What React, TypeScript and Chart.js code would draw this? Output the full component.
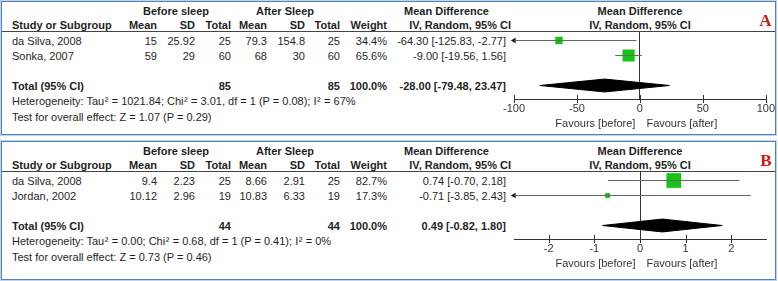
import React, { useEffect, useRef } from 'react';
import { Chart, registerables } from 'chart.js';

Chart.register(...registerables);

const FONT = "'Liberation Sans', Arial, Helvetica, sans-serif";

// ---------- data ----------
const groupLabels = ['Before sleep', 'After Sleep'];
const favoursLabels = ['Favours [before]', 'Favours [after]'];
const panelLetters = ['A', 'B'];

const studiesA = ['da Silva, 2008', 'Sonka, 2007'];
const beforeMeanA = [15, 59];
const beforeSdA = [25.92, 29];
const beforeNA = [25, 60];
const afterMeanA = [79.3, 68];
const afterSdA = [154.8, 30];
const afterNA = [25, 60];
const weightA = [34.4, 65.6];
const mdA = [-64.3, -9.0];
const ciLowA = [-125.83, -19.56];
const ciHighA = [-2.77, 1.56];
const pooledA = [-28.0, -79.48, 23.47];
const totalNA = [85, 85];
const hetA = [1021.84, 3.01, 1, 0.08, 67];
const overallA = [1.07, 0.29];
const ticksA = [-100, -50, 0, 50, 100];
const rangeA = [-100, 100];

const studiesB = ['da Silva, 2008', 'Jordan, 2002'];
const beforeMeanB = [9.4, 10.12];
const beforeSdB = [2.23, 2.96];
const beforeNB = [25, 19];
const afterMeanB = [8.66, 10.83];
const afterSdB = [2.91, 6.33];
const afterNB = [25, 19];
const weightB = [82.7, 17.3];
const mdB = [0.74, -0.71];
const ciLowB = [-0.7, -3.85];
const ciHighB = [2.18, 2.43];
const pooledB = [0.49, -0.82, 1.8];
const totalNB = [44, 44];
const hetB = [0.0, 0.68, 1, 0.41, 0];
const overallB = [0.73, 0.46];
const ticksB = [-2, -1, 0, 1, 2];
const rangeB = [-2.76, 2.76];

// ---------- styles ----------
const TEXT = '#1f1f1f';
const GREEN = '#16c416';
const TOTAL_ROW = 3;
const DIAMOND_HALF = 0.43;

type Align = 'left' | 'right' | 'center';

function T(p: { x: number; y: number; align?: Align; bold?: boolean; children: React.ReactNode }) {
  const align = p.align || 'left';
  const tx = align === 'right' ? 'translateX(-100%)' : align === 'center' ? 'translateX(-50%)' : 'none';
  return (
    <div
      style={{
        position: 'absolute',
        left: p.x,
        top: p.y - 6.5,
        lineHeight: '13px',
        height: 13,
        whiteSpace: 'nowrap',
        transform: tx,
        fontWeight: p.bold ? 'bold' : 'normal',
      }}
    >
      {p.children}
    </div>
  );
}

const Sq = () => (
  <span style={{ display: 'inline-block', width: 7.5, paddingLeft: 0.5, boxSizing: 'border-box' }}>²</span>
);

const fmtPct = (v: number) => v.toFixed(1) + '%';
const fmtCi = (m: number, l: number, h: number) => `${m.toFixed(2)} [${l.toFixed(2)}, ${h.toFixed(2)}]`;

const decorPlugin = {
  id: 'forestDecor',
  afterDraw(chart: any, _args: any, opts: any) {
    const x = chart.scales.x;
    const ctx = chart.ctx;
    const axisY = chart.chartArea.bottom;
    ctx.save();
    ctx.strokeStyle = '#333';
    ctx.lineWidth = 1;
    x.ticks.forEach((t: any) => {
      const px = Math.round(x.getPixelForValue(t.value)) + 0.5;
      ctx.beginPath();
      ctx.moveTo(px, axisY - 4);
      ctx.lineTo(px, axisY + 4);
      ctx.stroke();
    });
    const x0 = x.getPixelForValue(0);
    ctx.font = `11px ${FONT}`;
    ctx.fillStyle = '#333';
    ctx.textBaseline = 'middle';
    ctx.textAlign = 'right';
    ctx.fillText(opts.labels[0], x0 - 4.5, axisY + 24.5);
    ctx.textAlign = 'left';
    ctx.fillText(opts.labels[1], x0 + 6.5, axisY + 24.5);
    ctx.restore();
  },
};

type PanelProps = {
  top: number;
  height: number;
  letter: string;
  studies: string[];
  bMean: number[];
  bSd: number[];
  bN: number[];
  aMean: number[];
  aSd: number[];
  aN: number[];
  weight: number[];
  md: number[];
  lo: number[];
  hi: number[];
  pooled: number[];
  totalN: number[];
  het: number[];
  overall: number[];
  ticks: number[];
  range: number[];
};

function ForestCanvas(p: PanelProps) {
  const ref = useRef<HTMLCanvasElement | null>(null);
  useEffect(() => {
    if (!ref.current) return;
    const [xMin, xMax] = p.range;
    const ciSets = p.studies.map((_, i) => ({
      type: 'scatter' as const,
      data: [
        { x: p.lo[i], y: i },
        { x: p.hi[i], y: i },
      ],
      showLine: true,
      borderColor: '#666',
      borderWidth: 1,
      pointRadius: 0,
    }));
    const arrowPts = p.studies
      .map((_, i) => (p.lo[i] < xMin ? { x: xMin, y: i } : null))
      .filter(Boolean);
    const [pm, pl, ph] = p.pooled;
    const chart = new Chart(ref.current, {
      type: 'scatter',
      data: {
        datasets: [
          ...ciSets,
          {
            type: 'scatter',
            data: p.md.map((m, i) => ({ x: m, y: i })),
            pointStyle: 'rect',
            pointRadius: p.weight.map((w) => (2.3 + 0.15 * w) / Math.SQRT2),
            backgroundColor: GREEN,
            borderColor: GREEN,
            borderWidth: 0,
          },
          {
            type: 'scatter',
            data: [
              { x: pl, y: TOTAL_ROW },
              { x: pm, y: TOTAL_ROW - DIAMOND_HALF },
              { x: ph, y: TOTAL_ROW },
              { x: pm, y: TOTAL_ROW + DIAMOND_HALF },
              { x: pl, y: TOTAL_ROW },
            ],
            showLine: true,
            fill: 'shape',
            backgroundColor: '#000',
            borderColor: '#000',
            borderWidth: 1,
            pointRadius: 0,
            tension: 0,
          },
          {
            type: 'scatter',
            data: arrowPts as any,
            pointStyle: 'triangle',
            rotation: -90,
            pointRadius: 3.2,
            backgroundColor: '#111',
            borderColor: '#111',
            borderWidth: 0,
            clip: false,
          } as any,
        ],
      },
      options: {
        responsive: false,
        animation: false,
        events: [],
        layout: { padding: { left: 34, right: 12, top: 32, bottom: 19 } },
        plugins: {
          legend: { display: false },
          tooltip: { enabled: false },
          forestDecor: { labels: favoursLabels },
        } as any,
        scales: {
          x: {
            type: 'linear',
            min: xMin,
            max: xMax,
            afterBuildTicks: (scale: any) => {
              scale.ticks = p.ticks.map((v) => ({ value: v }));
            },
            afterFit: (scale: any) => {
              scale.height = 20;
            },
            ticks: {
              autoSkip: false,
              maxRotation: 0,
              padding: 3,
              color: '#333',
              font: { family: FONT, size: 11 },
              callback: (v: any) => String(v),
            },
            grid: {
              drawTicks: false,
              lineWidth: 1,
              color: (c: any) => (c.tick && c.tick.value === 0 ? '#333' : 'rgba(0,0,0,0)'),
            },
            border: { display: true, color: '#333', width: 1 },
          },
          y: {
            type: 'linear',
            display: false,
            reverse: true,
            min: -0.567,
            max: 3.9,
          },
        },
      },
      plugins: [decorPlugin as any],
    });
    return () => chart.destroy();
  }, []);
  return (
    <canvas
      ref={ref}
      width={298}
      height={138}
      style={{ position: 'absolute', left: 480, top: p.top, width: 298, height: 138 }}
    />
  );
}

const COL = { study: 12, bMean: 157, bSd: 195, bN: 231, aMean: 267, aSd: 305, aN: 340, weight: 387, ci: 506 };
const ROW_Y = [41.5, 56.5];

function Panel(p: PanelProps) {
  const o = p.top;
  const [tau2, chi2, df, pHet, i2] = p.het;
  const [z, pz] = p.overall;
  return (
    <>
      <div
        style={{
          position: 'absolute',
          left: 1,
          top: o + 1,
          width: 775,
          height: p.height,
          boxSizing: 'border-box',
          border: '1px solid #4f80c0',
          boxShadow: '0 0 0 1px #c2d4ec',
        }}
      />
      <div style={{ position: 'absolute', left: 2, top: o + 31, width: 773, height: 1, background: '#444' }} />
      <T x={176} y={o + 11} align="center" bold>{groupLabels[0]}</T>
      <T x={285} y={o + 11} align="center" bold>{groupLabels[1]}</T>
      <T x={446.5} y={o + 11} align="center" bold>Mean Difference</T>
      <T x={640} y={o + 11} align="center" bold>Mean Difference</T>
      <T x={COL.study} y={o + 25} bold>Study or Subgroup</T>
      <T x={COL.bMean} y={o + 25} align="right" bold>Mean</T>
      <T x={COL.bSd} y={o + 25} align="right" bold>SD</T>
      <T x={COL.bN} y={o + 25} align="right" bold>Total</T>
      <T x={COL.aMean} y={o + 25} align="right" bold>Mean</T>
      <T x={COL.aSd} y={o + 25} align="right" bold>SD</T>
      <T x={COL.aN} y={o + 25} align="right" bold>Total</T>
      <T x={COL.weight} y={o + 25} align="right" bold>Weight</T>
      <T x={511} y={o + 25} align="right" bold>IV, Random, 95% CI</T>
      <T x={640} y={o + 25} align="center" bold>IV, Random, 95% CI</T>
      {p.studies.map((s, i) => (
        <React.Fragment key={s}>
          <T x={COL.study} y={o + ROW_Y[i]}>{s}</T>
          <T x={COL.bMean} y={o + ROW_Y[i]} align="right">{String(p.bMean[i])}</T>
          <T x={COL.bSd} y={o + ROW_Y[i]} align="right">{String(p.bSd[i])}</T>
          <T x={COL.bN} y={o + ROW_Y[i]} align="right">{String(p.bN[i])}</T>
          <T x={COL.aMean} y={o + ROW_Y[i]} align="right">{String(p.aMean[i])}</T>
          <T x={COL.aSd} y={o + ROW_Y[i]} align="right">{String(p.aSd[i])}</T>
          <T x={COL.aN} y={o + ROW_Y[i]} align="right">{String(p.aN[i])}</T>
          <T x={COL.weight} y={o + ROW_Y[i]} align="right">{fmtPct(p.weight[i])}</T>
          <T x={COL.ci} y={o + ROW_Y[i]} align="right">{fmtCi(p.md[i], p.lo[i], p.hi[i])}</T>
        </React.Fragment>
      ))}
      <T x={COL.study} y={o + 86} bold>Total (95% CI)</T>
      <T x={COL.bN} y={o + 86} align="right" bold>{String(p.totalN[0])}</T>
      <T x={COL.aN} y={o + 86} align="right" bold>{String(p.totalN[1])}</T>
      <T x={COL.weight} y={o + 86} align="right" bold>{fmtPct(p.weight.reduce((a, b) => a + b, 0))}</T>
      <T x={COL.ci} y={o + 86} align="right" bold>{fmtCi(p.pooled[0], p.pooled[1], p.pooled[2])}</T>
      <T x={COL.study} y={o + 101.5}>
        Heterogeneity: Tau<Sq />= {tau2.toFixed(2)}; Chi<Sq />= {chi2.toFixed(2)}, df = {df} (P = {pHet.toFixed(2)}); I<Sq />= {i2}%
      </T>
      <T x={COL.study} y={o + 117.5}>{`Test for overall effect: Z = ${z.toFixed(2)} (P = ${pz.toFixed(2)})`}</T>
      <ForestCanvas {...p} />
      <div
        style={{
          position: 'absolute',
          left: 771.5,
          top: o + 21 - 10,
          lineHeight: '20px',
          transform: 'translateX(-100%)',
          fontFamily: "'Liberation Serif', 'Times New Roman', serif",
          fontWeight: 'bold',
          fontSize: 17,
          color: '#d01818',
        }}
      >
        {p.letter}
      </div>
    </>
  );
}

export default function App() {
  return (
    <div
      style={{
        position: 'absolute',
        left: 0,
        top: 0,
        width: 778,
        height: 281,
        background: '#fff',
        overflow: 'hidden',
        fontFamily: FONT,
        fontSize: 11,
        color: TEXT,
      }}
    >
      <Panel
        top={0}
        height={134}
        letter={panelLetters[0]}
        studies={studiesA}
        bMean={beforeMeanA}
        bSd={beforeSdA}
        bN={beforeNA}
        aMean={afterMeanA}
        aSd={afterSdA}
        aN={afterNA}
        weight={weightA}
        md={mdA}
        lo={ciLowA}
        hi={ciHighA}
        pooled={pooledA}
        totalN={totalNA}
        het={hetA}
        overall={overallA}
        ticks={ticksA}
        range={rangeA}
      />
      <Panel
        top={140}
        height={139}
        letter={panelLetters[1]}
        studies={studiesB}
        bMean={beforeMeanB}
        bSd={beforeSdB}
        bN={beforeNB}
        aMean={afterMeanB}
        aSd={afterSdB}
        aN={afterNB}
        weight={weightB}
        md={mdB}
        lo={ciLowB}
        hi={ciHighB}
        pooled={pooledB}
        totalN={totalNB}
        het={hetB}
        overall={overallB}
        ticks={ticksB}
        range={rangeB}
      />
    </div>
  );
}
